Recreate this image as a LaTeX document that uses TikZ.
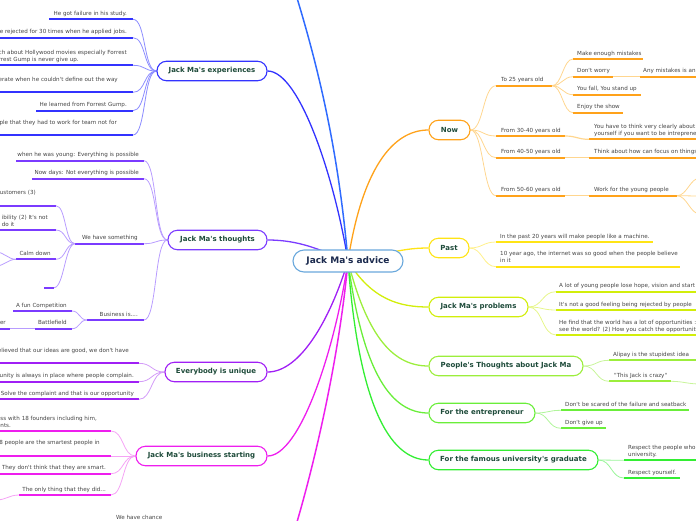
\documentclass[tikz,border=0pt]{standalone}
\usepackage{fontspec}
\setsansfont{DejaVu Sans}[Ligatures=TeXOff]
\renewcommand{\familydefault}{\sfdefault}
\usetikzlibrary{backgrounds}
\definecolor{cblue}{HTML}{3333FF}
\definecolor{cbluel}{HTML}{8C8CFF}
\definecolor{ctop}{HTML}{2F6BFF}
\definecolor{cviol}{HTML}{7B3BFF}
\definecolor{cviolL}{HTML}{B89CFF}
\definecolor{cpur}{HTML}{A01FF5}
\definecolor{cpurL}{HTML}{D39BF8}
\definecolor{cmag}{HTML}{EE1EEE}
\definecolor{cmagL}{HTML}{F5A3F5}
\definecolor{corg}{HTML}{FFA21A}
\definecolor{corgL}{HTML}{FFD68F}
\definecolor{cyel}{HTML}{FFE415}
\definecolor{cyelL}{HTML}{FFF08A}
\definecolor{cyg}{HTML}{D2EE0A}
\definecolor{cygL}{HTML}{E6F68A}
\definecolor{clg}{HTML}{9CEE3C}
\definecolor{clgL}{HTML}{C8F59A}
\definecolor{cgr}{HTML}{6AEE3A}
\definecolor{cgrL}{HTML}{B0F59A}
\definecolor{cgg}{HTML}{33EE33}
\definecolor{cggL}{HTML}{99F599}
\definecolor{cctr}{HTML}{6AA8DC}
\definecolor{ttl}{HTML}{1E4B3A}
\definecolor{ctrtxt}{HTML}{1B2A4E}
\definecolor{lgray}{HTML}{444444}
\tikzset{
  leaf/.style={inner sep=0pt, font=\fontsize{5.6}{7}\selectfont, text=lgray},
  branch/.style={draw, fill=white, rounded corners=9.5pt, line width=1.1pt, minimum height=19.5pt, inner sep=0pt, font=\fontsize{7}{8}\selectfont\bfseries, text=ttl},
  uline/.style={line width=1.8pt},
  lconn/.style={line width=0.8pt},
  mainc/.style={line width=1.3pt},
}
\begin{document}
\begin{tikzpicture}[x=1pt,y=-1pt]
\useasboundingbox (0,0) rectangle (696,520);
% ---------- central and branch nodes ----------
\node[branch, draw=cctr, minimum width=110pt, minimum height=22pt, rounded corners=11pt, font=\fontsize{9}{10}\selectfont\bfseries, text=ctrtxt] (C) at (348,261) {Jack Ma's advice};
\node[branch, draw=cblue, minimum width=110pt] (E) at (212,71) {Jack Ma's experiences};
\node[branch, draw=cviol, minimum width=99pt] (T) at (217.5,240) {Jack Ma's thoughts};
\node[branch, draw=cpur, minimum width=102pt] (U) at (216,372) {Everybody is unique};
\node[branch, draw=cmag, minimum width=131pt] (B) at (201.5,456) {Jack Ma's business starting};
\node[branch, draw=corg, minimum width=41pt] (N) at (449.5,130) {Now};
\node[branch, draw=cyel, minimum width=40pt] (P) at (449,248) {Past};
\node[branch, draw=cyg, minimum width=99pt] (R) at (478.5,307) {Jack Ma's problems};
\node[branch, draw=clg, minimum width=154pt] (Q) at (506,366) {People's Thoughts about Jack Ma};
\node[branch, draw=cgr, minimum width=106pt] (F) at (482,413) {For the entrepreneur};
\node[branch, draw=cgg, minimum width=169pt] (G) at (513.5,460) {For the famous university's graduate};
\coordinate (topx) at (297,-2);
\coordinate (botx) at (297,522);
% ---------- leaf coordinates ----------
% experiences
\coordinate (e1l) at (49,19.3); \coordinate (e1r) at (133,19.3);
\coordinate (e2l) at (-2,37.7); \coordinate (e2r) at (133,37.7);
\coordinate (e3l) at (-2,65.3); \coordinate (e3r) at (133,65.3);
\coordinate (e4l) at (-2,92.3); \coordinate (e4r) at (133,92.3);
\coordinate (e5l) at (36,110.7);\coordinate (e5r) at (133,110.7);
\coordinate (e6l) at (-2,135);  \coordinate (e6r) at (133,135);
% thoughts
\coordinate (t1l) at (16,160.7); \coordinate (t1r) at (144,160.7);
\coordinate (t2l) at (32,178.7); \coordinate (t2r) at (144,178.7);
\coordinate (t3l) at (75,243.7); \coordinate (t3r) at (144,243.7);
\coordinate (t3al) at (-2,205.7); \coordinate (t3ar) at (56,205.7);
\coordinate (t3bl) at (-2,230);   \coordinate (t3br) at (56,230);
\coordinate (t3cl) at (16,259.3); \coordinate (t3cr) at (56,259.3);
\coordinate (t3dl) at (44,287.7); \coordinate (t3dr) at (54,287.7);
\coordinate (cx1) at (-4,252); \coordinate (cx2) at (-4,266);
\coordinate (t4l) at (87,320); \coordinate (t4r) at (144,320);
\coordinate (t4al) at (13,311);   \coordinate (t4ar) at (72,311);
\coordinate (t4bl) at (35,328.7); \coordinate (t4br) at (72,328.7);
\coordinate (t4cl) at (-2,328.7); \coordinate (t4cr) at (10,328.7);
% unique
\coordinate (u1l) at (-2,363.3); \coordinate (u1r) at (139,363.3);
\coordinate (u2l) at (-2,381.7); \coordinate (u2r) at (139,381.7);
\coordinate (u3l) at (-2,399.3); \coordinate (u3r) at (139,399.3);
% business
\coordinate (b1l) at (-2,431);   \coordinate (b1r) at (111,431);
\coordinate (b2l) at (-2,456);   \coordinate (b2r) at (111,456);
\coordinate (b3l) at (-2,473.7); \coordinate (b3r) at (111,473.7);
\coordinate (b4l) at (19,495);   \coordinate (b4r) at (111,495);
\coordinate (bx) at (-4,500);
% now
\coordinate (n1l) at (496,85.7);  \coordinate (n1r) at (552,85.7);
\coordinate (n1al) at (573,59);   \coordinate (n1ar) at (643,59);
\coordinate (n1bl) at (573,76.7); \coordinate (n1br) at (613,76.7);
\coordinate (n1b1l) at (640,76.7);\coordinate (n1b1r) at (700,76.7);
\coordinate (n1cl) at (573,94.7); \coordinate (n1cr) at (641,94.7);
\coordinate (n1dl) at (573,112.7);\coordinate (n1dr) at (623,112.7);
\coordinate (n2l) at (496,136);   \coordinate (n2r) at (565,136);
\coordinate (n2al) at (589,139.3);\coordinate (n2ar) at (700,139.3);
\coordinate (n3l) at (496,157.7); \coordinate (n3r) at (565,157.7);
\coordinate (n3al) at (589,157.7);\coordinate (n3ar) at (700,157.7);
\coordinate (n4l) at (496,195.7); \coordinate (n4r) at (565,195.7);
\coordinate (n4al) at (589,195.7);\coordinate (n4ar) at (677,195.7);
\coordinate (n4x1) at (700,178); \coordinate (n4x2) at (700,196); \coordinate (n4x3) at (700,214);
% past
\coordinate (p1l) at (496,242);   \coordinate (p1r) at (653,242);
\coordinate (p2l) at (496,266.7); \coordinate (p2r) at (680,266.7);
% problems
\coordinate (r1l) at (556,291.7); \coordinate (r1r) at (700,291.7);
\coordinate (r2l) at (556,310);   \coordinate (r2r) at (700,310);
\coordinate (r3l) at (556,335);   \coordinate (r3r) at (700,335);
% people's thoughts
\coordinate (q1l) at (609,360.3); \coordinate (q1r) at (700,360.3);
\coordinate (q2l) at (609,381.3); \coordinate (q2r) at (671,381.3);
\coordinate (qx) at (700,384);
% entrepreneur
\coordinate (f1l) at (561,410.3); \coordinate (f1r) at (689,410.3);
\coordinate (f2l) at (561,428.3); \coordinate (f2r) at (606,428.3);
% graduate
\coordinate (g1l) at (624,460.3); \coordinate (g1r) at (700,460.3);
\coordinate (g2l) at (624,478);   \coordinate (g2r) at (680,478);
% ---------- leaf texts ----------
\node[leaf, anchor=base east] (e1) at (127,15) {He got failure in his study.};
\node[leaf, anchor=base east] (e2) at (127,33.7) {le rejected for 30 times when he applied jobs.};
\node[leaf, anchor=north east, align=left] (e3) at (127,50.05) {ch about Hollywood movies especially Forrest\\rrest Gump is never give up.};
\node[leaf, anchor=base east] (e4) at (118,81.8) {erate when he couldn't define out the way};
\node[leaf, anchor=base east] (e5) at (127,106.7) {He learned from Forrest Gump.};
\node[leaf, anchor=base east] (e6) at (117,124.5) {ple that they had to work for team not for};
\node[leaf, anchor=base east] (t1) at (139,156.7) {when he was young: Everything is possible};
\node[leaf, anchor=base east] (t2) at (139,174.7) {Now days: Not everything is possible};
\node[leaf, anchor=base east] (t3) at (138,239.7) {We have something};
\node[leaf, anchor=base east] (t3a) at (36,194.8) {ustomers (3)};
\node[leaf, anchor=north east, align=left] (t3b) at (48,214.75) {ibility (2) It's not\\do it};
\node[leaf, anchor=base east] (t3c) at (51,255.3) {Calm down};
\node[leaf, anchor=base east] (t4) at (138,316) {Business is....};
\node[leaf, anchor=base east] (t4a) at (67,307) {A fun Competition};
\node[leaf, anchor=base east] (t4b) at (67,324.7) {Battlefield};
\node[leaf, anchor=base east] (t4c) at (6,324.7) {er};
\node[leaf, anchor=base east] (u1) at (129,352.8) {elieved that our ideas are good, we don't have};
\node[leaf, anchor=base east] (u2) at (134,377.7) {rtunity is always in place where people complain.};
\node[leaf, anchor=base east] (u3) at (134,395.3) {Solve the complaint and that is our opportunity};
\node[leaf, anchor=north east, align=left] (b1) at (97,415.75) {ess with 18 founders including him,\\ents.};
\node[leaf, anchor=base east] (b2) at (100,444.8) {8 people are the smartest people in};
\node[leaf, anchor=base east] (b3) at (106,469.7) {They don't think that they are smart.};
\node[leaf, anchor=base east] (b4) at (106,491) {The only thing that they did...};
\node[leaf, anchor=base west] (wc) at (116,519.5) {We have chance};
\node[leaf, anchor=base west] (n1) at (501,81.7) {To 25 years old};
\node[leaf, anchor=base west] (n1a) at (577,55) {Make enough mistakes};
\node[leaf, anchor=base west] (n1b) at (577,72.7) {Don't worry};
\node[leaf, anchor=base west] (n1b1) at (643,72.7) {Any mistakes is an};
\node[leaf, anchor=base west] (n1c) at (577,90.7) {You fall, You stand up};
\node[leaf, anchor=base west] (n1d) at (577,108.7) {Enjoy the show};
\node[leaf, anchor=base west] (n2) at (501,132) {From 30-40 years old};
\node[leaf, anchor=north west, align=left] (n2a) at (594,124.05) {You have to think very clearly about\\yourself if you want to be intrepreneur};
\node[leaf, anchor=base west] (n3) at (501,153.7) {From 40-50 years old};
\node[leaf, anchor=base west] (n3a) at (594,153.7) {Think about how can focus on things};
\node[leaf, anchor=base west] (n4) at (501,191.7) {From 50-60 years old};
\node[leaf, anchor=base west] (n4a) at (594,191.7) {Work for the young people};
\node[leaf, anchor=base west] (p1) at (500,238) {In the past 20 years will make people like a machine.};
\node[leaf, anchor=north west, align=left] (p2) at (500,251.45) {10 year ago, the internet was so good when the people believe\\in it};
\node[leaf, anchor=base west] (r1) at (559,287.7) {A lot of young people lose hope, vision and start};
\node[leaf, anchor=base west] (r2) at (559,306) {It's not a good feeling being rejected by people};
\node[leaf, anchor=north west, align=left] (r3) at (559,319.75) {He find that the world has a lot of opportunities :\\see the world? (2) How you catch the opportunity};
\node[leaf, anchor=base west] (q1) at (613,356.3) {Alipay is the stupidest idea};
\node[leaf, anchor=base west] (q2) at (614,377.3) {"This Jack is crazy"};
\node[leaf, anchor=base west] (f1) at (565,406.3) {Don't be scared of the failure and seatback};
\node[leaf, anchor=base west] (f2) at (565,424.3) {Don't give up};
\node[leaf, anchor=north west, align=left] (g1) at (628,445.05) {Respect the people who\\university.};
\node[leaf, anchor=base west] (g2) at (628,474) {Respect yourself.};
% ---------- connectors ----------
\begin{pgfonlayer}{background}
% main
\draw[mainc, corg] (C.center) .. controls (362,170) and (392,130) .. (N.west);
\draw[mainc, cyel] (C.center) .. controls (395,252) and (405,248) .. (P.west);
\draw[mainc, cyg] (C.center) .. controls (372,300) and (400,307) .. (R.west);
\draw[mainc, clg] (C.center) .. controls (368,340) and (395,366) .. (Q.west);
\draw[mainc, cgr] (C.center) .. controls (363,375) and (392,413) .. (F.west);
\draw[mainc, cgg] (C.center) .. controls (358,400) and (388,460) .. (G.west);
\draw[mainc, cblue] (C.center) .. controls (335,180) and (300,71) .. (E.east);
\draw[mainc, ctop, line width=1.5pt] (C.center) .. controls (340,170) and (325,90) .. (topx);
\draw[mainc, cviol] (C.center) .. controls (320,250) and (300,240) .. (T.east);
\draw[mainc, cpur] (C.center) .. controls (330,320) and (300,372) .. (U.east);
\draw[mainc, cmag] (C.center) .. controls (335,350) and (300,456) .. (B.east);
\draw[mainc, cmag, line width=1.5pt] (C.center) .. controls (340,350) and (318,450) .. (botx);
% experiences
\foreach \i in {1,...,6} \draw[uline, cblue] (e\i l) -- (e\i r);
\foreach \i in {1,...,6} \draw[lconn, cbluel] (E.west) .. controls +(-13,0) and +(13,0) .. (e\i r);
% thoughts
\foreach \i in {t1,t2,t3,t4,t3a,t3b,t3c,t3d,t4a,t4b,t4c} \draw[uline, cviol] (\i l) -- (\i r);
\foreach \i in {t1,t2,t3,t4} \draw[lconn, cviolL] (T.west) .. controls +(-13,0) and +(13,0) .. (\i r);
\foreach \i in {t3a,t3b,t3c,t3d} \draw[lconn, cviolL] (t3l) .. controls +(-10,0) and +(10,0) .. (\i r);
\foreach \i in {t4a,t4b} \draw[lconn, cviolL] (t4l) .. controls +(-8,0) and +(8,0) .. (\i r);
\draw[lconn, cviolL, line width=1.4pt] (t4bl) -- (t4cr);
\draw[lconn, cviolL] (t3cl) .. controls +(-8,0) and +(8,0) .. (cx1);
\draw[lconn, cviolL] (t3cl) .. controls +(-8,0) and +(8,0) .. (cx2);
% unique
\foreach \i in {u1,u2,u3} {\draw[uline, cpur] (\i l) -- (\i r); \draw[lconn, cpurL] (U.west) .. controls +(-13,0) and +(13,0) .. (\i r);}
% business
\foreach \i in {b1,b2,b3,b4} {\draw[uline, cmag] (\i l) -- (\i r); \draw[lconn, cmagL] (B.west) .. controls +(-13,0) and +(13,0) .. (\i r);}
\draw[lconn, cmagL] (b4l) .. controls +(-10,0) and +(10,0) .. (bx);
% now
\foreach \i in {n1,n2,n3,n4} {\draw[uline, corg] (\i l) -- (\i r); \draw[lconn, corgL] (N.east) .. controls +(13,0) and +(-13,0) .. (\i l);}
\foreach \i in {n1a,n1b,n1c,n1d} {\draw[uline, corg] (\i l) -- (\i r); \draw[lconn, corgL] (n1r) .. controls +(10,0) and +(-10,0) .. (\i l);}
\foreach \i in {n1b1,n2a,n3a,n4a} \draw[uline, corg] (\i l) -- (\i r);
\draw[lconn, corgL, line width=1.4pt] (n1br) -- (n1b1l);
\draw[lconn, corgL, line width=1.2pt] (n2r) .. controls +(12,0) and +(-12,0) .. (n2al);
\draw[lconn, corgL, line width=1.4pt] (n3r) -- (n3al);
\draw[lconn, corgL, line width=1.2pt] (n4r) -- (n4al);
\foreach \i in {n4x1,n4x2,n4x3} \draw[lconn, corgL] (n4ar) .. controls +(10,0) and +(-10,0) .. (\i);
% past
\foreach \i in {p1,p2} {\draw[uline, cyel] (\i l) -- (\i r); \draw[lconn, cyelL] (P.east) .. controls +(13,0) and +(-13,0) .. (\i l);}
% problems
\foreach \i in {r1,r2,r3} {\draw[uline, cyg] (\i l) -- (\i r); \draw[lconn, cygL] (R.east) .. controls +(14,0) and +(-14,0) .. (\i l);}
% people's thoughts
\foreach \i in {q1,q2} {\draw[uline, clg] (\i l) -- (\i r); \draw[lconn, clgL] (Q.east) .. controls +(13,0) and +(-13,0) .. (\i l);}
\draw[lconn, clgL] (q2r) .. controls +(12,0) and +(-12,0) .. (qx);
% entrepreneur
\foreach \i in {f1,f2} {\draw[uline, cgr] (\i l) -- (\i r); \draw[lconn, cgrL] (F.east) .. controls +(13,0) and +(-13,0) .. (\i l);}
% graduate
\foreach \i in {g1,g2} {\draw[uline, cgg] (\i l) -- (\i r); \draw[lconn, cggL] (G.east) .. controls +(13,0) and +(-13,0) .. (\i l);}
\end{pgfonlayer}
\end{tikzpicture}
\end{document}
